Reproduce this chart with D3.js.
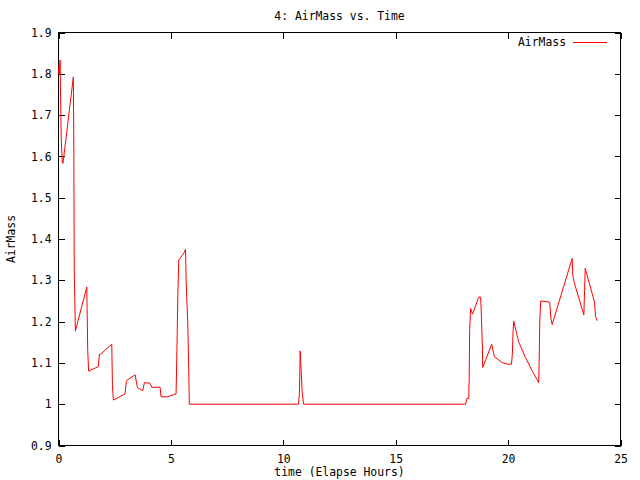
<!DOCTYPE html>
<html>
<head>
<meta charset="utf-8">
<script src="https://cdn.jsdelivr.net/npm/d3@7"></script>
<style>
  html, body { margin: 0; padding: 0; background: #fff; }
  svg { display: block; }
  text { font-family: "DejaVu Sans Mono", "Liberation Mono", monospace; font-size: 11.4px; fill: #000; }
</style>
</head>
<body>
<svg id="chart" width="640" height="480"></svg>
<script>
// ---- data ----
const timeHours = [
  0.00, 0.02, 0.04, 0.07, 0.12, 0.17, 0.20, 0.66, 0.68, 0.70, 0.75, 1.26, 1.27, 1.30, 1.34,
  1.77, 1.82, 1.87, 2.37, 2.40, 2.44, 2.96, 3.02, 3.41, 3.51, 3.75, 3.82, 4.07, 4.15, 4.52,
  4.56, 4.84, 5.23, 5.26, 5.31, 5.35, 5.59, 5.65, 5.68, 5.75, 5.80, 5.82,
  10.68, 10.72, 10.75, 10.84, 10.90,
  18.11, 18.17, 18.25, 18.27, 18.29, 18.33, 18.42, 18.69, 18.78, 18.81, 18.86, 18.87,
  19.27, 19.39, 19.73, 19.96, 20.15, 20.19, 20.22, 20.25, 20.47, 20.77, 21.07, 21.36,
  21.38, 21.41, 21.45, 21.85, 21.90, 21.96, 22.85, 22.88, 22.95, 23.37, 23.40, 23.43,
  23.84, 23.89, 23.96
];
const airMass = [
  1.800, 1.820, 1.800, 1.833, 1.644, 1.586, 1.583, 1.792, 1.639, 1.330, 1.177, 1.284, 1.235, 1.131, 1.080,
  1.091, 1.121, 1.121, 1.145, 1.045, 1.010, 1.025, 1.057, 1.071, 1.040, 1.033, 1.052, 1.051, 1.041, 1.041,
  1.018, 1.018, 1.025, 1.107, 1.267, 1.349, 1.367, 1.375, 1.294, 1.198, 1.063, 1.000,
  1.000, 1.030, 1.129, 1.030, 1.000,
  1.000, 1.014, 1.014, 1.068, 1.178, 1.232, 1.218, 1.259, 1.259, 1.216, 1.133, 1.089,
  1.145, 1.115, 1.101, 1.097, 1.097, 1.121, 1.175, 1.201, 1.151, 1.113, 1.081, 1.052,
  1.100, 1.202, 1.250, 1.247, 1.209, 1.193, 1.353, 1.311, 1.293, 1.216, 1.272, 1.329,
  1.248, 1.213, 1.202
];
const xTicks = [0, 5, 10, 15, 20, 25];
const yTicks = [0.9, 1.0, 1.1, 1.2, 1.3, 1.4, 1.5, 1.6, 1.7, 1.8, 1.9];
const titleText = "4: AirMass vs. Time";
const xLabel = "time (Elapse Hours)";
const yLabel = "AirMass";
const seriesName = "AirMass";

// ---- layout ----
const L = 58.5, R = 620.5, T = 32.5, B = 445.5;
const svg = d3.select("#chart");

const x = d3.scaleLinear().domain([0, 25]).range([L, R]);
const y = d3.scaleLinear().domain([0.9, 1.9]).range([B, T]);

const fmtY = d => String(+d.toFixed(1));
const tickLen = 6;

function styleAxis(g) {
  g.attr("font-family", null).attr("font-size", null);
  g.select(".domain").remove();
  g.selectAll(".tick line").attr("stroke", "#000").attr("shape-rendering", "crispEdges");
}

// bottom axis
svg.append("g").attr("transform", `translate(0,${B})`)
  .call(d3.axisBottom(x).tickValues(xTicks).tickSize(-tickLen).tickPadding(9).tickFormat(d3.format("d")))
  .call(styleAxis);
// top mirror
svg.append("g").attr("transform", `translate(0,${T})`)
  .call(d3.axisTop(x).tickValues(xTicks).tickSize(-tickLen).tickFormat(""))
  .call(styleAxis);
// left axis
svg.append("g").attr("transform", `translate(${L},0)`)
  .call(d3.axisLeft(y).tickValues(yTicks).tickSize(-tickLen).tickPadding(7).tickFormat(fmtY))
  .call(styleAxis);
// right mirror
svg.append("g").attr("transform", `translate(${R},0)`)
  .call(d3.axisRight(y).tickValues(yTicks).tickSize(-tickLen).tickFormat(""))
  .call(styleAxis);

// border
svg.append("rect")
  .attr("x", L).attr("y", T).attr("width", R - L).attr("height", B - T)
  .attr("fill", "none").attr("stroke", "#000").attr("stroke-width", 1)
  .attr("shape-rendering", "crispEdges");

// data line
const pts = timeHours.map((t, i) => [t, airMass[i]]);
svg.append("path")
  .datum(pts)
  .attr("fill", "none")
  .attr("stroke", "#ff0000")
  .attr("stroke-width", 1)
  .attr("d", d3.line().x(d => x(d[0])).y(d => y(d[1])));

// title & labels
svg.append("text").attr("x", (L + R) / 2).attr("y", 20)
  .attr("text-anchor", "middle").text(titleText);
svg.append("text").attr("x", (L + R) / 2).attr("y", 476)
  .attr("text-anchor", "middle").text(xLabel);
svg.append("text")
  .attr("transform", `translate(15,${(T + B) / 2}) rotate(-90)`)
  .attr("text-anchor", "middle").text(yLabel);

// legend
svg.append("text").attr("x", 566).attr("y", 46)
  .attr("text-anchor", "end").text(seriesName);
svg.append("line")
  .attr("x1", 573).attr("x2", 607).attr("y1", 42.5).attr("y2", 42.5)
  .attr("stroke", "#ff0000").attr("stroke-width", 1)
  .attr("shape-rendering", "crispEdges");
</script>
</body>
</html>
